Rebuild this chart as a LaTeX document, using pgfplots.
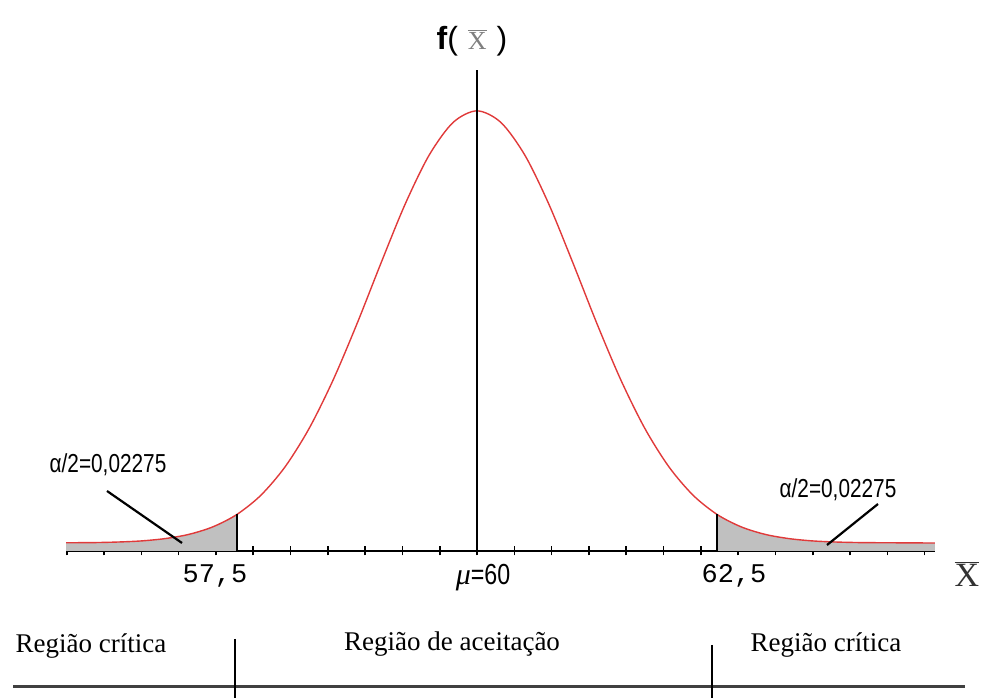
\documentclass[border=0pt]{standalone}
\usepackage{fontspec}
\setmainfont{Liberation Serif}
\newfontfamily\arial{Liberation Sans}
\newfontfamily\narrow[FakeStretch=0.8]{Liberation Sans}
\newfontfamily\mono{Liberation Mono}
\usepackage{pgfplots}
\usepackage{pgfplotstable}
\pgfplotsset{compat=1.18}
\definecolor{curvered}{HTML}{E03A3A}
\definecolor{tailgray}{HTML}{C0C0C0}

% density of the sample mean
\pgfplotstableread{
x      f
55.72  0.0060
56.00  0.0061
56.25  0.0065
56.50  0.0073
56.75  0.0090
57.00  0.0121
57.25  0.0176
57.50  0.0266
57.75  0.0406
58.00  0.0611
58.25  0.0889
58.50  0.1241
58.75  0.1652
59.00  0.2093
59.25  0.2519
59.50  0.2876
59.75  0.3115
60.00  0.3200
60.25  0.3115
60.50  0.2876
60.75  0.2519
61.00  0.2093
61.25  0.1652
61.50  0.1241
61.75  0.0889
62.00  0.0611
62.25  0.0406
62.50  0.0266
62.75  0.0176
63.00  0.0121
63.25  0.0090
63.50  0.0073
63.75  0.0065
64.00  0.0061
64.25  0.0060
64.50  0.0059
64.77  0.0058
}\density

\begin{document}
\begin{tikzpicture}
\begin{axis}[
  at={(33pt,73.5pt)}, anchor=south west,
  scale only axis, width=434.5pt, height=240.5pt,
  xmin=55.719, xmax=64.771, ymin=0, ymax=0.3497,
  axis x line*=bottom, axis y line=none,
  axis line style={line width=0.9pt, black},
  xtick={55.727,56.115,56.504,56.892,57.281,57.669,58.058,58.446,58.835,59.223,59.612,60,
         60.389,60.777,61.166,61.554,61.943,62.331,62.720,63.108,63.497,63.885,64.274,64.662},
  xticklabels={},
  ytick=\empty,
  tick align=center, major tick length=4.5pt,
  tick style={line width=0.8pt, black},
  clip=false,
]
\addplot[fill=tailgray, draw=none, smooth, restrict x to domain=55:57.5]
  table[x=x, y=f] {\density} \closedcycle;
\addplot[fill=tailgray, draw=none, smooth, restrict x to domain=62.5:65]
  table[x=x, y=f] {\density} \closedcycle;
\addplot[curvered, line width=0.7pt, smooth] table[x=x, y=f] {\density};
\draw[line width=0.6pt] (axis cs:57.5,0) -- (axis cs:57.5,0.0266);
\draw[line width=0.6pt] (axis cs:62.5,0) -- (axis cs:62.5,0.0266);
\draw[line width=0.9pt] (axis cs:60,0) -- (axis cs:60,0.3497);
\end{axis}

\begin{scope}[x=0.5pt, y=-0.5pt, yshift=349pt]
\path (0,0) rectangle (984,698);
% title of the vertical axis
\node[anchor=base, inner sep=0pt] at (472,50)
  {{\arial\bfseries\fontsize{16}{18}\selectfont f}{\arial\fontsize{16}{18}\selectfont(}\enspace
   {\color{gray}\fontsize{13}{15}\selectfont$\overline{\mbox{X}}$}\enspace
   {\arial\fontsize{16}{18}\selectfont)}};
% labels on the axis
\node[anchor=base, inner sep=0pt, font=\mono\fontsize{13.5}{15}\selectfont] at (215,583) {57,5};
\node[anchor=base, inner sep=0pt, font=\mono\fontsize{13.5}{15}\selectfont] at (734,583) {62,5};
\node[anchor=base, inner sep=0pt] at (483,585)
  {{\itshape\fontsize{15}{17}\selectfont μ}{\narrow\fontsize{14.5}{17}\selectfont =60}};
\node[anchor=base, inner sep=0pt] at (967,587)
  {\color{black!80}\fontsize{17}{19}\selectfont$\overline{\mbox{X}}$};
% tail areas
\node[anchor=base, inner sep=0pt, font=\narrow\fontsize{13}{15}\selectfont] at (108,473) {α/2=0,02275};
\node[anchor=base, inner sep=0pt, font=\narrow\fontsize{13}{15}\selectfont] at (838,498) {α/2=0,02275};
\draw[line width=1.1pt] (107,491) -- (182,543);
\draw[line width=1.1pt] (878,504) -- (827,545);
% regions below the axis
\draw[line width=1.5pt, black!75] (13,687) -- (965,687);
\draw[line width=0.8pt] (235,639) -- (235,698);
\draw[line width=0.8pt] (712,645) -- (712,698);
\node[anchor=base, inner sep=0pt, font=\fontsize{13.5}{15}\selectfont] at (91,653) {Região crítica};
\node[anchor=base, inner sep=0pt, font=\fontsize{13.5}{15}\selectfont] at (452,651) {Região de aceitação};
\node[anchor=base, inner sep=0pt, font=\fontsize{13.5}{15}\selectfont] at (826,652) {Região crítica};
\end{scope}
\end{tikzpicture}
\end{document}
